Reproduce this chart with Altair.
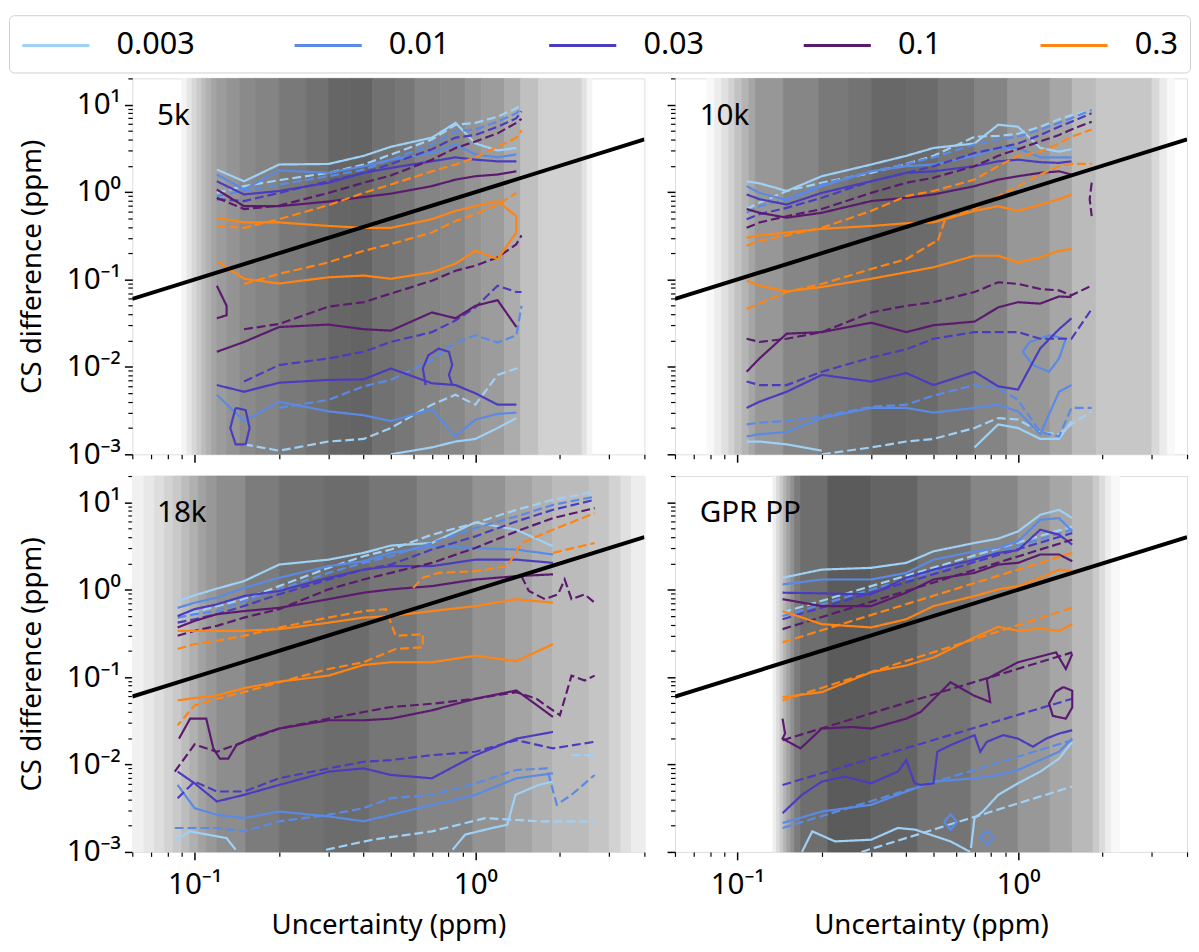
import altair as alt
import pandas as pd

FONT = "Noto Sans"

LEVELS = ["0.003", "0.01", "0.03", "0.1", "0.3"]
COLORS = ["#9fd1f7", "#5a8ae6", "#4b3cbf", "#5b1a6e", "#ff8412"]
PANELS = ["5k", "10k", "18k", "GPR PP"]

X_RANGE = [0.06, 4.0]
Y_RANGE = [0.001, 20.0]
DIAG_X = [0.06, 4.0]
DIAG_Y = [0.06, 4.0]

MAJOR_X = [0.1, 1.0]
MINOR_X = [0.06, 0.07, 0.08, 0.09, 0.2, 0.3, 0.4, 0.5, 0.6, 0.7, 0.8, 0.9, 2.0, 3.0, 4.0]
MAJOR_Y = [0.001, 0.01, 0.1, 1.0, 10.0]
MINOR_Y = [0.002, 0.003, 0.004, 0.005, 0.006, 0.007, 0.008, 0.009,
           0.02, 0.03, 0.04, 0.05, 0.06, 0.07, 0.08, 0.09,
           0.2, 0.3, 0.4, 0.5, 0.6, 0.7, 0.8, 0.9,
           2.0, 3.0, 4.0, 5.0, 6.0, 7.0, 8.0, 9.0, 20.0]

# ---------------- background (uncertainty density) ----------------
BG_5K_EDGES = [0.090, 0.094, 0.098, 0.102, 0.106, 0.110, 0.115, 0.120, 0.130, 0.145, 0.165, 0.20, 0.25,
               0.30, 0.36, 0.43, 0.52, 0.61, 0.75, 0.92, 1.05, 1.27, 1.45, 1.68, 2.40, 2.50, 2.60]
BG_5K_DENS = [0.06, 0.135, 0.218, 0.294, 0.371, 0.441, 0.512, 0.559, 0.606, 0.665, 0.70, 0.771, 0.818,
              0.888, 0.90, 0.818, 0.782, 0.70, 0.676, 0.606, 0.559, 0.465, 0.347, 0.253, 0.159, 0.065]
BG_10K_EDGES = [0.078, 0.083, 0.088, 0.093, 0.098, 0.104, 0.110, 0.116, 0.146, 0.195, 0.25, 0.30, 0.40,
                0.52, 0.70, 0.92, 1.30, 1.56, 1.90, 3.0, 3.2, 3.4, 3.6]
BG_10K_DENS = [0.04, 0.1, 0.17, 0.25, 0.34, 0.42, 0.5, 0.59, 0.69, 0.77, 0.81, 0.88, 0.86, 0.79, 0.7,
               0.59, 0.5, 0.38, 0.31, 0.21, 0.11, 0.04]
BG_18K_EDGES = [0.06, 0.066, 0.072, 0.078, 0.084, 0.09, 0.096, 0.103, 0.11, 0.12, 0.152, 0.2, 0.29, 0.42,
                0.62, 0.98, 1.28, 1.6, 1.88, 2.54, 3.0, 3.3, 3.6, 4.0]
BG_18K_DENS = [0.076, 0.124, 0.18, 0.24, 0.30, 0.37, 0.44, 0.52, 0.58, 0.65, 0.75, 0.82, 0.85, 0.79,
               0.70, 0.61, 0.51, 0.44, 0.38, 0.32, 0.25, 0.17, 0.10]
BG_GPR_EDGES = [0.134, 0.138, 0.142, 0.146, 0.150, 0.155, 0.160, 0.168, 0.21, 0.30, 0.44, 0.68, 1.0,
                1.3, 1.56, 1.85, 1.95, 2.05, 2.15, 2.3]
BG_GPR_DENS = [0.09, 0.19, 0.30, 0.42, 0.52, 0.63, 0.75, 0.84, 0.96, 0.90, 0.80, 0.69, 0.58, 0.50,
               0.39, 0.29, 0.19, 0.10, 0.04]

# ---------------- panel 5k ----------------
X_5K = [0.12, 0.15, 0.2, 0.3, 0.4, 0.5, 0.7, 0.85, 1.0, 1.2, 1.4, 1.46]
T5_LB_S_UP = [1.81, 1.33, 2.07, 2.1, 2.6, 3.3, 4.2, 6.2, 3.6, 3.0, 3.2, None]
T5_LB_D_UP = [0.98, 1.17, 1.37, 1.66, 2.07, 2.69, 4.0, 5.9, 6.2, 7.3, 9.1, 10.2]
T5_BL_S_UP = [1.59, 1.07, 1.77, 1.66, 1.98, 2.35, 2.8, 3.5, 2.7, 2.5, 2.7, None]
T5_BL_D_UP = [0.90, 1.03, 1.22, 1.52, 1.81, 2.35, 3.5, 4.95, 5.2, 6.4, 8.0, 9.1]
T5_IN_S_UP = [1.33, 0.94, 1.03, 1.28, 1.66, 1.89, 2.25, 2.5, 2.35, 2.25, 2.25, None]
T5_IN_D_UP = [0.83, 0.79, 0.98, 1.33, 1.66, 2.1, 3.1, 4.2, 4.5, 5.6, 7.0, 8.4]
T5_PU_S_UP = [1.07, 0.69, 0.69, 0.78, 0.88, 0.96, 1.17, 1.39, 1.52, 1.59, 1.73, None]
T5_PU_D_UP = [0.86, 0.64, 0.70, 0.98, 1.28, 1.55, 2.35, 3.2, 3.8, 4.7, 6.2, 6.9]
T5_OR_D_UP = [0.41, 0.39, 0.49, 0.71, 0.98, 1.22, 1.73, 2.07, 2.5, 3.3, 4.2, 5.1]
T5_OR_S_UP = [0.51, 0.45, 0.45, 0.41, 0.39, 0.39, 0.49, 0.61, 0.69, 0.79, 0.53, None]
T5_OR_S_LO = [0.163, 0.102, 0.090, 0.106, 0.111, 0.102, 0.121, 0.152, 0.213, 0.171, 0.345, None]
T5_OR_D_LO = [None, 0.089, 0.116, 0.157, 0.213, 0.254, 0.345, 0.468, 0.557, 0.72, 0.98, None]
T5_PU_S_LO = [0.0149, 0.0193, 0.0286, 0.0305, 0.027, 0.026, 0.042, 0.036, 0.050, 0.058, 0.0286, None]
T5_PU_D_LO = [None, 0.027, 0.031, 0.049, 0.055, 0.069, 0.097, 0.126, 0.144, 0.179, 0.254, 0.32]
T5_IN_S_LO = [0.0062, 0.0052, 0.0066, 0.0071, 0.0072, 0.0096, 0.0065, 0.0062, 0.005, 0.0037, 0.0037, None]
T5_IN_D_LO = [None, 0.0068, 0.0105, 0.0125, 0.0149, 0.0193, 0.025, 0.034, 0.048, 0.085, 0.072, 0.072]
T5_BL_S_LO = [0.0048, 0.0024, 0.004, 0.0031, 0.0028, 0.0024, 0.0033, 0.0016, 0.0025, 0.0029, 0.003, None]
T5_BL_D_LO = [None, None, 0.0034, 0.0042, 0.006, 0.0071, 0.012, 0.019, 0.023, 0.019, 0.023, 0.05]
T5_LB_S_LO = [None, None, None, None, None, 0.001, 0.0012, 0.0014, 0.0015, 0.002, 0.0026, None]
T5_LB_D_LO = [None, 0.0013, 0.0011, 0.0014, 0.0015, 0.002, 0.0037, 0.0048, 0.0037, 0.0081, 0.0096, 0.0096]
T5_IN_LOOP_X = [0.665, 0.65, 0.68, 0.74, 0.805, 0.827, 0.805, 0.827]
T5_IN_LOOP_Y = [0.0062, 0.0096, 0.0136, 0.0162, 0.0149, 0.0105, 0.0081, 0.0062]
T5_IN_LOOP2_X = [0.14, 0.134, 0.14, 0.152, 0.157, 0.152, 0.14]
T5_IN_LOOP2_Y = [0.0034, 0.002, 0.0013, 0.0013, 0.002, 0.0032, 0.0034]
T5_PU_FRAG_X = [0.12, 0.13, 0.13, 0.12]
T5_PU_FRAG_Y = [0.085, 0.05, 0.039, 0.036]

# ---------------- panel 10k ----------------
X_10K = [0.108, 0.12, 0.15, 0.2, 0.3, 0.4, 0.5, 0.7, 0.85, 1.0, 1.2, 1.4, 1.55, 1.83]
T10_LB_S_UP = [1.33, 1.26, 1.03, 1.52, 2.07, 2.6, 3.2, 3.6, 5.9, 5.6, 3.2, 2.9, 3.1, None]
T10_LB_D_UP = [0.64, 0.76, 1.03, 1.28, 1.66, 2.1, 2.6, 4.3, 4.4, 4.65, 5.6, 6.8, 7.6, 8.7]
T10_BL_S_UP = [1.17, 0.98, 0.81, 1.17, 1.73, 1.98, 2.07, 2.6, 3.2, 3.2, 2.5, 2.5, 2.5, None]
T10_BL_D_UP = [0.58, 0.69, 0.83, 1.22, 1.73, 2.1, 2.5, 3.5, 4.0, 4.3, 5.2, 6.2, 7.0, 8.7]
T10_IN_S_UP = [0.94, 0.83, 0.72, 0.98, 1.33, 1.66, 1.73, 1.98, 2.25, 2.35, 2.2, 2.16, 2.25, None]
T10_IN_D_UP = [0.49, 0.56, 0.66, 0.86, 1.33, 1.66, 1.98, 2.8, 3.2, 3.6, 4.5, 5.6, 6.4, 8.0]
T10_PU_S_UP = [0.64, 0.58, 0.51, 0.58, 0.79, 0.86, 0.94, 1.17, 1.39, 1.52, 1.66, 1.73, 1.59, None]
T10_PU_D_UP = [0.39, 0.45, 0.53, 0.64, 0.98, 1.28, 1.46, 1.98, 2.6, 3.1, 3.8, 4.5, 5.2, 6.4]
T10_OR_D_UP = [0.243, 0.277, 0.32, 0.39, 0.61, 0.90, 1.03, 1.39, 1.98, 2.6, 2.9, 3.6, 4.3, 5.2]
T10_OR_S_UP = [0.30, 0.32, 0.345, 0.38, 0.41, 0.44, 0.45, 0.61, 0.69, 0.61, 0.72, 0.83, 0.94, None]
T10_OR_D_LO_X = [0.108, 0.12, 0.15, 0.2, 0.3, 0.4, 0.5, 0.516, 0.55, 0.7, 0.85, 1.0, 1.2, 1.4, 1.55, 1.83]
T10_OR_D_LO = [0.046, 0.053, 0.072, 0.089, 0.132, 0.171, 0.265, 0.265, 0.49, 0.64, 0.90, 1.17, 1.59, 1.98, 2.1, 2.1]
T10_OR_S_LO = [0.097, 0.085, 0.073, 0.082, 0.102, 0.121, 0.138, 0.187, 0.187, 0.157, 0.179, 0.213, 0.223, None]
T10_PU_S_LO = [0.0088, 0.0125, 0.024, 0.025, 0.032, 0.025, 0.030, 0.033, 0.048, 0.055, 0.053, 0.064, 0.063, None]
T10_PU_D_LO = [0.021, 0.0193, 0.021, 0.025, 0.042, 0.050, 0.055, 0.072, 0.093, 0.089, 0.078, 0.075, 0.066, 0.085]
T10_IN_S_LO = [0.0034, 0.004, 0.0052, 0.0081, 0.0068, 0.0085, 0.0062, 0.0088, 0.006, 0.0055, 0.0163, 0.027, 0.036, None]
T10_IN_D_LO = [0.0068, 0.0062, 0.0062, 0.0088, 0.0128, 0.0159, 0.021, 0.025, 0.025, 0.025, 0.021, 0.021, 0.021, 0.046]
T10_BL_S_LO = [0.0016, 0.0017, 0.0018, 0.0026, 0.0034, 0.0034, 0.003, 0.0034, 0.0037, 0.0031, 0.0017, 0.0052, 0.0062, None]
T10_BL_D_LO = [0.0022, 0.0023, 0.0024, 0.0027, 0.0035, 0.0037, 0.0047, 0.0062, 0.0057, 0.0042, 0.0018, 0.0016, 0.0034, 0.0034]
T10_LB_S_LO = [0.0014, 0.0014, 0.0013, 0.0011, None, None, None, 0.0012, 0.0022, 0.002, 0.0015, 0.0015, 0.0024, None]
T10_LB_D_LO = [None, None, None, 0.001, 0.0012, 0.0014, 0.0015, 0.002, 0.0026, 0.0025, 0.0018, 0.0017, 0.0022, 0.0031]
T10_BL_LOOP_X = [1.04, 1.1, 1.29, 1.48, 1.40, 1.29, 1.13, 1.04]
T10_BL_LOOP_Y = [0.0149, 0.0193, 0.023, 0.021, 0.0125, 0.0088, 0.0105, 0.0149]
T10_PU_FRAG_X = [1.83, 1.80, 1.83]
T10_PU_FRAG_Y = [1.28, 0.83, 0.53]

# ---------------- panel 18k ----------------
X_18K = [0.087, 0.1, 0.12, 0.15, 0.2, 0.3, 0.4, 0.5, 0.7, 1.0, 1.4, 1.89, 2.66]
T18_LB_S_UP = [0.744, 0.863, 1.03, 1.256, 1.94, 2.21, 2.64, 3.2, 3.43, 5.9, 4.86, 3.14, None]
T18_LB_D_UP = [0.50, 0.55, 0.65, 0.78, 1.10, 1.78, 2.42, 2.88, 4.26, 5.79, 8.21, 10.7, 13.3]
T18_BL_S_UP = [0.62, 0.71, 0.812, 1.05, 1.37, 1.86, 2.12, 2.64, 3.14, 3.01, 2.88, 2.53, None]
T18_BL_D_UP = [0.48, 0.525, 0.57, 0.744, 1.01, 1.56, 2.03, 2.42, 3.43, 5.08, 6.89, 9.36, 11.6]
T18_IN_S_UP = [0.50, 0.60, 0.68, 0.848, 0.967, 1.37, 1.70, 1.86, 1.86, 2.21, 2.21, 2.03, None]
T18_IN_D_UP = [0.42, 0.46, 0.525, 0.65, 0.886, 1.31, 1.70, 1.94, 2.88, 4.08, 6.05, 8.21, 10.7]
T18_PU_S_UP = [0.37, 0.44, 0.525, 0.57, 0.62, 0.78, 0.925, 1.01, 1.10, 1.31, 1.43, 1.50, None]
T18_PU_D_UP = [0.297, 0.339, 0.386, 0.48, 0.60, 1.01, 1.31, 1.56, 2.03, 3.01, 4.65, 6.6, 8.58]
T18_PU_D_LOOP_X = [1.46, 1.55, 1.77, 1.97, 2.08, 2.2, 2.45, 2.66]
T18_PU_D_LOOP_Y = [1.43, 0.967, 0.78, 0.886, 1.31, 0.78, 0.886, 0.71]
T18_OR_S_UP = [0.339, 0.339, 0.339, 0.339, 0.354, 0.42, 0.48, 0.50, 0.57, 0.65, 0.78, 0.71, None]
T18_OR_S_LO = [0.0542, 0.0576, 0.0617, 0.0748, 0.0889, 0.104, 0.138, 0.148, 0.148, 0.176, 0.152, 0.239, None]
T18_OR_D_A_X = [0.087, 0.1, 0.12, 0.15, 0.2, 0.3, 0.4, 0.48, 0.52, 0.65, 0.65, 0.52, 0.4, 0.3, 0.2, 0.15, 0.12, 0.1, 0.087]
T18_OR_D_A_Y = [0.21, 0.239, 0.261, 0.297, 0.37, 0.48, 0.57, 0.60, 0.297, 0.31, 0.219, 0.21, 0.148, 0.124, 0.0875, 0.0674, 0.0566, 0.0475, 0.0281]
T18_OR_D_B_X = [0.6, 0.65, 0.74, 1.0, 1.3, 1.46, 1.89, 2.66]
T18_OR_D_B_Y = [1.05, 1.37, 1.56, 1.63, 1.86, 3.43, 4.86, 7.52]
T18_OR_D_C_X = [1.89, 2.66]
T18_OR_D_C_Y = [2.64, 3.43]
T18_PU_S_LO_X = [0.088, 0.0964, 0.11, 0.1166, 0.123, 0.1318, 0.141, 0.162, 0.2, 0.3, 0.4, 0.5, 0.7, 1.0, 1.4, 1.6, 1.89]
T18_PU_S_LO_Y = [0.0198, 0.0335, 0.0335, 0.0153, 0.0117, 0.0117, 0.0167, 0.0207, 0.0258, 0.0321, 0.0321, 0.0335, 0.0417, 0.0566, 0.0704, 0.0518, 0.035]
T18_PU_D_LO_X = [0.085, 0.1, 0.12, 0.15, 0.2, 0.3, 0.4, 0.5, 0.7, 1.0, 1.4, 1.65, 2.0, 2.2, 2.45, 2.66]
T18_PU_D_LO_Y = [0.0083, 0.017, 0.014, 0.0182, 0.0258, 0.0335, 0.0399, 0.0455, 0.0496, 0.0566, 0.0674, 0.0566, 0.0366, 0.104, 0.0915, 0.104]
T18_IN_S_LO = [0.00829, 0.0061, 0.00378, 0.0045, 0.00584, 0.00829, 0.00904, 0.0076, 0.00696, 0.0128, 0.0198, 0.0236, None]
T18_IN_D_LO = [0.00412, 0.00638, 0.00491, 0.00491, 0.00696, 0.00904, 0.01076, 0.01125, 0.0128, 0.014, 0.019, 0.0153, 0.0182]
T18_BL_S_LO = [0.00584, 0.00317, 0.00266, 0.00244, 0.0029, 0.00255, 0.00224, 0.00266, 0.00346, 0.0045, 0.00696, 0.00793, None]
T18_BL_D_LO_X = [0.085, 0.1, 0.12, 0.15, 0.2, 0.3, 0.4, 0.5, 0.7, 1.0, 1.4, 1.8, 1.95, 2.2, 2.66]
T18_BL_D_LO_Y = [0.00188, 0.00188, 0.00188, 0.00172, 0.00224, 0.00266, 0.00317, 0.00412, 0.0045, 0.0061, 0.00866, 0.00904, 0.00346, 0.0045, 0.0076]
T18_LB_S_LO_A_X = [0.085, 0.096, 0.13, 0.14]
T18_LB_S_LO_A_Y = [0.00132, 0.00172, 0.00144, 0.00106]
T18_LB_S_LO_B_X = [0.83, 0.92, 1.15, 1.3, 1.39, 1.68, 1.89]
T18_LB_S_LO_B_Y = [0.00106, 0.00158, 0.00188, 0.00205, 0.0045, 0.00584, 0.00638]
T18_LB_D_LO_X = [0.294, 0.43, 0.70, 1.086, 1.68, 2.66]
T18_LB_D_LO_Y = [0.00106, 0.00138, 0.00172, 0.00244, 0.00224, 0.00224]
T18_LB_D_FRAG_X = [2.2, 2.66]
T18_LB_D_FRAG_Y = [0.0128, 0.0128]

# ---------------- panel GPR PP ----------------
X_GPR = [0.145, 0.2, 0.3, 0.4, 0.5, 0.7, 0.85, 1.0, 1.2, 1.4, 1.56]
G_LB_S_UP = [1.37, 1.70, 1.78, 2.03, 2.75, 3.43, 3.84, 4.65, 7.2, 8.21, 6.6]
G_BL_S_UP = [1.15, 1.31, 1.31, 1.56, 2.21, 2.75, 3.01, 3.58, 6.32, 6.6, 4.65]
G_IN_S_UP = [0.925, 0.909, 0.886, 1.37, 1.70, 2.21, 2.64, 2.83, 4.86, 4.26, 3.28]
G_PU_S_UP = [0.78, 0.65, 0.65, 0.925, 1.31, 1.56, 1.94, 2.03, 2.53, 2.53, 2.12]
G_OR_S_UP = [0.57, 0.404, 0.37, 0.46, 0.65, 0.848, 1.01, 1.10, 1.37, 1.70, 1.63]
G_OR_S_LO = [0.0591, 0.0674, 0.114, 0.136, 0.168, 0.285, 0.376, 0.339, 0.36, 0.339, 0.404]
G_BL_S_LO = [0.00214, 0.0029, 0.00346, 0.00491, 0.00638, 0.00696, 0.0076, 0.00866, 0.01125, 0.014, 0.0198]
G_PU_S_LO_X = [0.145, 0.148, 0.145, 0.168, 0.2, 0.256, 0.3, 0.4, 0.45, 0.575, 0.695, 0.796, 0.774, 1.0, 1.366, 1.48, 1.56]
G_PU_S_LO_Y = [0.0335, 0.0226, 0.0198, 0.0153, 0.0258, 0.0269, 0.0258, 0.0335, 0.0399, 0.0875, 0.0617, 0.0518, 0.0955, 0.148, 0.192, 0.124, 0.184]
G_PU_LOOP_X = [1.45, 1.56, 1.56, 1.48, 1.33, 1.29, 1.36, 1.45]
G_PU_LOOP_Y = [0.077, 0.07, 0.045, 0.0335, 0.036, 0.05, 0.068, 0.077]
G_IN_S_LO_X = [0.145, 0.17, 0.2, 0.242, 0.3, 0.373, 0.4, 0.428, 0.45, 0.5, 0.516, 0.575, 0.7, 0.734, 0.774, 0.886, 1.0, 1.13, 1.26, 1.4, 1.56]
G_IN_S_LO_Y = [0.00278, 0.0045, 0.00638, 0.00727, 0.0061, 0.00829, 0.01125, 0.0061, 0.00584, 0.0061, 0.014, 0.0167, 0.0217, 0.014, 0.0182, 0.0217, 0.0198, 0.016, 0.0198, 0.0226, 0.0247]
G_LB_S_LO_A_X = [0.17, 0.185, 0.223, 0.3, 0.373, 0.43, 0.575, 0.676]
G_LB_S_LO_A_Y = [0.001, 0.00172, 0.00132, 0.00138, 0.00188, 0.0018, 0.00132, 0.001]
G_LB_S_LO_B_X = [0.68, 0.70, 0.75, 0.85, 1.0, 1.2, 1.4, 1.56]
G_LB_S_LO_B_Y = [0.00111, 0.00244, 0.0029, 0.0045, 0.0061, 0.00829, 0.0117, 0.0182]
G_BL_DIAM1_X = [0.545, 0.575, 0.607, 0.575, 0.545]
G_BL_DIAM1_Y = [0.0022, 0.0027, 0.0022, 0.0018, 0.0022]
G_BL_DIAM2_X = [0.734, 0.775, 0.817, 0.775, 0.734]
G_BL_DIAM2_Y = [0.00145, 0.00175, 0.00145, 0.0012, 0.00145]
G_D_X = [0.145, 1.56]
G_LB_D_UP = [0.55, 5.3]
G_BL_D_UP = [0.50, 4.86]
G_IN_D_UP = [0.46, 4.45]
G_PU_D_UP = [0.354, 3.74]
G_OR_D_UP = [0.25, 2.64]
G_OR_D_LO = [0.0542, 0.62]
G_PU_D_LO = [0.019, 0.192]
G_IN_D_LO = [0.00584, 0.0566]
G_BL_D_LO = [0.00188, 0.019]
G_LB_D_LO_X = [0.277, 1.56]
G_LB_D_LO = [0.001, 0.0056]

# ---------------- build tables ----------------
rows = []
seg_id = [0]


def add(panel, q, style, xs, ys):
    seg_id[0] += 1
    i = 0
    for x, y in zip(xs, ys):
        if y is None:
            seg_id[0] += 1
            continue
        rows.append({"panel": panel, "q": q, "style": style, "seg": seg_id[0], "i": i, "x": x, "y": y})
        i += 1


def loop(xs, up, lo):
    pu = [(x, y) for x, y in zip(xs, up) if y is not None]
    pl = [(x, y) for x, y in zip(xs, lo) if y is not None]
    path = pu + pl[::-1]
    return [p[0] for p in path], [p[1] for p in path]


q1, q2, q3, q4, q5 = LEVELS
S, D = "solid", "dashed"

P = "5k"
add(P, q1, S, X_5K, T5_LB_S_UP); add(P, q1, D, X_5K, T5_LB_D_UP)
add(P, q2, S, X_5K, T5_BL_S_UP); add(P, q2, D, X_5K, T5_BL_D_UP)
add(P, q3, S, X_5K, T5_IN_S_UP); add(P, q3, D, X_5K, T5_IN_D_UP)
add(P, q4, S, X_5K, T5_PU_S_UP); add(P, q4, D, X_5K, T5_PU_D_UP)
add(P, q1, S, X_5K, T5_LB_S_LO); add(P, q1, D, X_5K, T5_LB_D_LO)
add(P, q2, S, X_5K, T5_BL_S_LO); add(P, q2, D, X_5K, T5_BL_D_LO)
add(P, q3, S, X_5K, T5_IN_S_LO); add(P, q3, D, X_5K, T5_IN_D_LO)
add(P, q3, S, T5_IN_LOOP_X, T5_IN_LOOP_Y); add(P, q3, S, T5_IN_LOOP2_X, T5_IN_LOOP2_Y)
add(P, q4, S, X_5K, T5_PU_S_LO); add(P, q4, D, X_5K, T5_PU_D_LO)
add(P, q4, S, T5_PU_FRAG_X, T5_PU_FRAG_Y)
add(P, q5, D, X_5K, T5_OR_D_UP); add(P, q5, D, X_5K, T5_OR_D_LO)
add(P, q5, S, *loop(X_5K, T5_OR_S_UP, T5_OR_S_LO))

P = "10k"
add(P, q1, S, X_10K, T10_LB_S_UP); add(P, q1, D, X_10K, T10_LB_D_UP)
add(P, q2, S, X_10K, T10_BL_S_UP); add(P, q2, D, X_10K, T10_BL_D_UP)
add(P, q3, S, X_10K, T10_IN_S_UP); add(P, q3, D, X_10K, T10_IN_D_UP)
add(P, q4, S, X_10K, T10_PU_S_UP); add(P, q4, D, X_10K, T10_PU_D_UP)
add(P, q1, S, X_10K, T10_LB_S_LO); add(P, q1, D, X_10K, T10_LB_D_LO)
add(P, q2, S, X_10K, T10_BL_S_LO); add(P, q2, D, X_10K, T10_BL_D_LO)
add(P, q2, S, T10_BL_LOOP_X, T10_BL_LOOP_Y)
add(P, q3, S, X_10K, T10_IN_S_LO); add(P, q3, D, X_10K, T10_IN_D_LO)
add(P, q4, S, X_10K, T10_PU_S_LO); add(P, q4, D, X_10K, T10_PU_D_LO)
add(P, q4, D, T10_PU_FRAG_X, T10_PU_FRAG_Y)
add(P, q5, S, X_10K, T10_OR_S_UP); add(P, q5, D, X_10K, T10_OR_D_UP)
add(P, q5, S, X_10K, T10_OR_S_LO); add(P, q5, D, T10_OR_D_LO_X, T10_OR_D_LO)

P = "18k"
add(P, q1, S, X_18K, T18_LB_S_UP); add(P, q1, D, X_18K, T18_LB_D_UP)
add(P, q2, S, X_18K, T18_BL_S_UP); add(P, q2, D, X_18K, T18_BL_D_UP)
add(P, q3, S, X_18K, T18_IN_S_UP); add(P, q3, D, X_18K, T18_IN_D_UP)
add(P, q4, S, X_18K, T18_PU_S_UP); add(P, q4, D, X_18K, T18_PU_D_UP)
add(P, q4, D, T18_PU_D_LOOP_X, T18_PU_D_LOOP_Y)
add(P, q1, S, T18_LB_S_LO_A_X, T18_LB_S_LO_A_Y); add(P, q1, S, T18_LB_S_LO_B_X, T18_LB_S_LO_B_Y)
add(P, q1, D, T18_LB_D_LO_X, T18_LB_D_LO_Y); add(P, q1, D, T18_LB_D_FRAG_X, T18_LB_D_FRAG_Y)
add(P, q2, S, X_18K, T18_BL_S_LO); add(P, q2, D, T18_BL_D_LO_X, T18_BL_D_LO_Y)
add(P, q3, S, X_18K, T18_IN_S_LO); add(P, q3, D, X_18K, T18_IN_D_LO)
add(P, q4, S, T18_PU_S_LO_X, T18_PU_S_LO_Y); add(P, q4, D, T18_PU_D_LO_X, T18_PU_D_LO_Y)
add(P, q5, S, X_18K, T18_OR_S_UP); add(P, q5, S, X_18K, T18_OR_S_LO)
add(P, q5, D, T18_OR_D_A_X, T18_OR_D_A_Y); add(P, q5, D, T18_OR_D_B_X, T18_OR_D_B_Y)
add(P, q5, D, T18_OR_D_C_X, T18_OR_D_C_Y)

P = "GPR PP"
add(P, q1, S, X_GPR, G_LB_S_UP); add(P, q1, D, G_D_X, G_LB_D_UP)
add(P, q2, S, X_GPR, G_BL_S_UP); add(P, q2, D, G_D_X, G_BL_D_UP)
add(P, q3, S, X_GPR, G_IN_S_UP); add(P, q3, D, G_D_X, G_IN_D_UP)
add(P, q4, S, X_GPR, G_PU_S_UP); add(P, q4, D, G_D_X, G_PU_D_UP)
add(P, q1, S, G_LB_S_LO_A_X, G_LB_S_LO_A_Y); add(P, q1, S, G_LB_S_LO_B_X, G_LB_S_LO_B_Y)
add(P, q1, D, G_LB_D_LO_X, G_LB_D_LO)
add(P, q2, S, X_GPR, G_BL_S_LO); add(P, q2, D, G_D_X, G_BL_D_LO)
add(P, q2, S, G_BL_DIAM1_X, G_BL_DIAM1_Y); add(P, q2, S, G_BL_DIAM2_X, G_BL_DIAM2_Y)
add(P, q3, S, G_IN_S_LO_X, G_IN_S_LO_Y); add(P, q3, D, G_D_X, G_IN_D_LO)
add(P, q4, S, G_PU_S_LO_X, G_PU_S_LO_Y); add(P, q4, D, G_D_X, G_PU_D_LO)
add(P, q4, S, G_PU_LOOP_X, G_PU_LOOP_Y)
add(P, q5, S, X_GPR, G_OR_S_UP); add(P, q5, D, G_D_X, G_OR_D_UP)
add(P, q5, S, X_GPR, G_OR_S_LO); add(P, q5, D, G_D_X, G_OR_D_LO)

lines_df = pd.DataFrame(rows)

bg_rows = []
for name, edges, dens in [("5k", BG_5K_EDGES, BG_5K_DENS), ("10k", BG_10K_EDGES, BG_10K_DENS),
                          ("18k", BG_18K_EDGES, BG_18K_DENS), ("GPR PP", BG_GPR_EDGES, BG_GPR_DENS)]:
    for lo, hi, d in zip(edges[:-1], edges[1:], dens):
        bg_rows.append({"panel": name, "lo": lo, "hi": hi, "d": d})
bg_df = pd.DataFrame(bg_rows)

diag_df = pd.DataFrame({"x": DIAG_X, "y": DIAG_Y})

# ---------------- chart ----------------
W, H = 519, 381
FS = 28
TFS = 30

XS = alt.Scale(type="log", domain=X_RANGE, nice=False)
YS = alt.Scale(type="log", domain=Y_RANGE, nice=False)
GRAY = alt.Scale(domain=[0, 1], range=["#ffffff", "#555555"])

LEG = alt.Legend(orient="none", legendX=-125, legendY=-64, direction="horizontal", columns=5,
                 title=None, symbolType="M-2,0H2", symbolSize=1156, symbolStrokeWidth=3,
                 symbolOffset=17, labelFontSize=31, labelFont=FONT, labelColor="black",
                 labelOffset=43, columnPadding=94, padding=12, strokeColor="#cfcfcf",
                 fillColor="white", cornerRadius=5, labelLimit=300)

X_LABEL_EXPR = "datum.value < 0.5 ? '10⁻¹' : '10⁰'"
Y_LABEL_EXPR = ("datum.value > 5 ? '10¹' : datum.value > 0.5 ? '10⁰' : datum.value > 0.05 ? '10⁻¹' : "
                "datum.value > 0.005 ? '10⁻²' : '10⁻³'")


def x_major(show):
    kw = dict(orient="bottom", values=MAJOR_X, tickSize=8, tickWidth=1.5, tickColor="black",
              domain=False, grid=False, labels=show, labelFontSize=TFS, labelPadding=10,
              labelFlush=False, labelOverlap=False, labelExpr=X_LABEL_EXPR, labelColor="black")
    if show:
        kw.update(title="Uncertainty (ppm)", titleFontSize=FS, titlePadding=13,
                  titleFontWeight="normal", titleColor="black")
    else:
        kw.update(title=None)
    return alt.Axis(**kw)


def y_major(show):
    kw = dict(orient="left", values=MAJOR_Y, tickSize=8, tickWidth=1.5, tickColor="black",
              domain=False, grid=False, labels=show, labelFontSize=TFS, labelPadding=4,
              labelFlush=False, labelOverlap=False, labelExpr=Y_LABEL_EXPR, labelColor="black")
    if show:
        kw.update(title="CS difference (ppm)", titleFontSize=FS, titlePadding=20,
                  titleFontWeight="normal", titleColor="black")
    else:
        kw.update(title=None)
    return alt.Axis(**kw)


X_MINOR = alt.Axis(orient="bottom", values=MINOR_X, tickSize=4.5, tickWidth=1.2, tickColor="black",
                   domain=False, grid=False, labels=False, title=None)
Y_MINOR = alt.Axis(orient="left", values=MINOR_Y, tickSize=4.5, tickWidth=1.2, tickColor="black",
                   domain=False, grid=False, labels=False, title=None)


def panel(name, show_x, show_y):
    bg = alt.Chart(bg_df[bg_df.panel == name]).mark_rect(strokeWidth=0.8).encode(
        x=alt.X("lo:Q", scale=XS, axis=x_major(show_x)),
        x2="hi:Q",
        y=alt.value(0),
        y2=alt.value(H),
        fill=alt.Fill("d:Q", scale=GRAY, legend=None),
        stroke=alt.Stroke("d:Q", scale=GRAY, legend=None),
    )
    ln = alt.Chart(lines_df[lines_df.panel == name]).mark_line(clip=True, strokeWidth=2.2).encode(
        x=alt.X("x:Q", scale=XS, axis=None),
        y=alt.Y("y:Q", scale=YS, axis=y_major(show_y)),
        color=alt.Color("q:N", scale=alt.Scale(domain=LEVELS, range=COLORS), legend=LEG),
        strokeDash=alt.StrokeDash("style:N", scale=alt.Scale(domain=["solid", "dashed"],
                                                            range=[[1, 0], [9, 4]]), legend=None),
        detail="seg:N",
        order="i:Q",
    )
    dg = alt.Chart(diag_df).mark_line(color="black", strokeWidth=4, clip=True).encode(
        x=alt.X("x:Q", scale=XS, axis=X_MINOR),
        y=alt.Y("y:Q", scale=YS, axis=Y_MINOR),
    )
    tx = alt.Chart(pd.DataFrame({"label": [name]})).mark_text(
        align="left", baseline="alphabetic", fontSize=30, font=FONT, color="black"
    ).encode(x=alt.value(25), y=alt.value(47), text="label:N")
    return alt.layer(bg, ln, dg, tx).resolve_axis(x="independent", y="independent").properties(
        width=W, height=H)


top = alt.hconcat(panel("5k", False, True), panel("10k", False, False), spacing=19)
bot = alt.hconcat(panel("18k", True, True), panel("GPR PP", True, False), spacing=19)

chart = alt.vconcat(top, bot, spacing=4).properties(
    padding={"left": 0, "top": 0, "right": 0, "bottom": 0}
).configure_view(stroke="black", strokeWidth=2).configure(font=FONT)

chart.save("out.html", embed_options={"renderer": "svg", "actions": False})
